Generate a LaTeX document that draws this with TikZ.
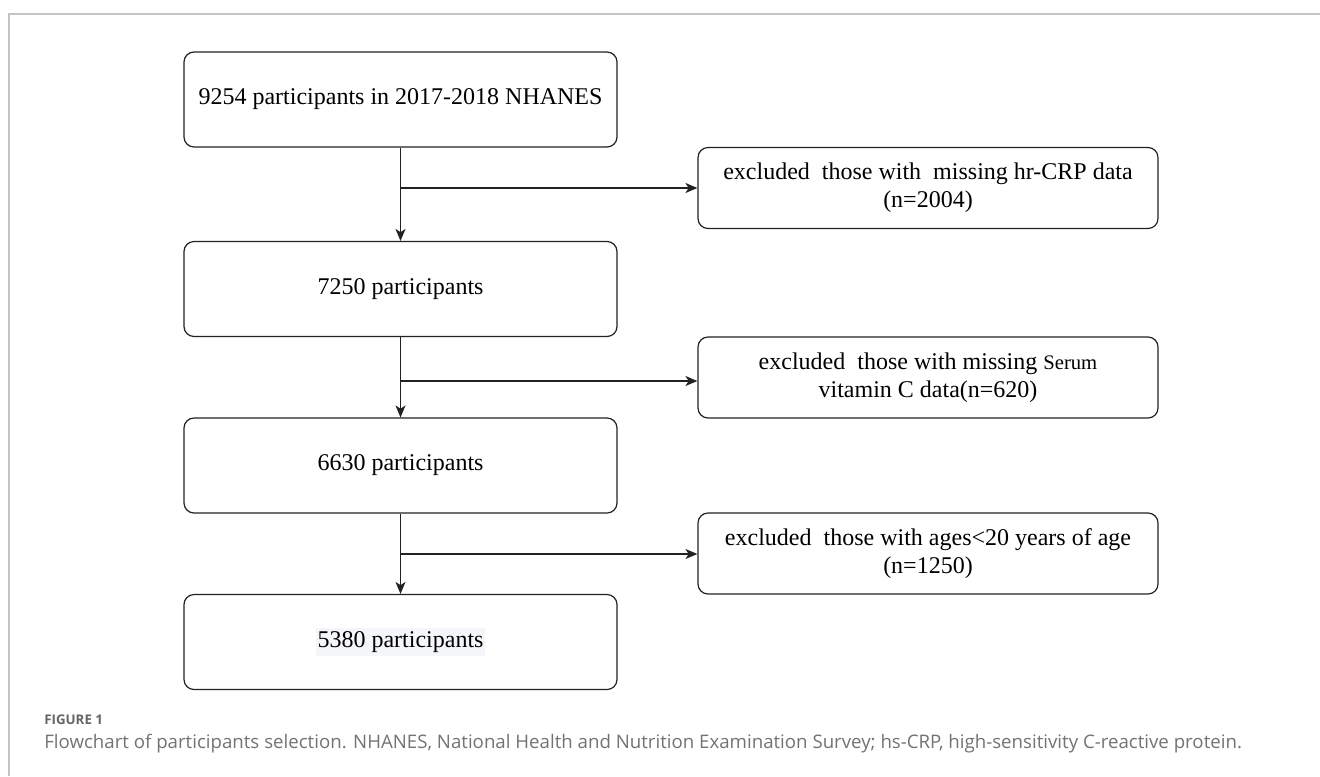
\documentclass[tikz,border=0pt]{standalone}
\usepackage{fontspec}
\setmainfont{Liberation Serif}
\newfontfamily\capfont{Open Sans}
\usetikzlibrary{arrows.meta}
\definecolor{frameline}{HTML}{C4C4C4}
\definecolor{boxline}{HTML}{222222}
\definecolor{captxt}{HTML}{737373}
\definecolor{capbold}{HTML}{666666}
\definecolor{hl}{HTML}{F4F6F9}
\begin{document}
\begin{tikzpicture}[x=0.75pt,y=-0.75pt,
  stagebox/.style={draw=boxline, line width=0.9pt, rounded corners=7.5pt,
    minimum width=324.75pt, minimum height=71.25pt, inner sep=0pt,
    align=center, font=\fontsize{18}{21}\selectfont},
  exclbox/.style={stagebox, minimum width=345pt, minimum height=60.75pt},
  flow/.style={draw=boxline, line width=0.9pt,
    -{Stealth[length=9pt,width=7.5pt,inset=2.5pt]}},
  captag/.style={anchor=base west, inner sep=0pt, text=capbold,
    font=\capfont\bfseries\fontsize{10}{12}\selectfont},
  captext/.style={anchor=base west, inner sep=0pt, text=captxt,
    font=\capfont\fontsize{14}{16}\selectfont},
]
\useasboundingbox (0,0) rectangle (1320,776);
\fill[white] (0,0) rectangle (1320,776);
\draw[frameline, line width=1.1pt] (1320,14) -- (9,14) -- (9,776);

% main stages
\node[stagebox] (b1) at (400.5,99.5) {9254 participants in 2017-2018 NHANES};
\node[stagebox] (b2) at (400.5,289) {7250 participants};
\node[stagebox] (b3) at (400.5,465.5) {6630 participants};
\node[stagebox] (b4) at (400.5,642) {{\setlength\fboxsep{1pt}\colorbox{hl}{\rule[-5.5pt]{0pt}{19.5pt}5380 participants}}};

% exclusions
\node[exclbox] (eA) at (928,188) {excluded\ \ those with\ \ missing hr-CRP data\\(n=2004)};
\node[exclbox] (eB) at (928,377.5) {excluded\ \ those with missing {\fontsize{15.5}{21}\selectfont Serum}\\vitamin C data(n=620)};
\node[exclbox] (eC) at (928,553.5) {excluded\ \ those with ages<20 years of age\\(n=1250)};

% junctions
\coordinate (j1) at (400.5,188);
\coordinate (j2) at (400.5,381);
\coordinate (j3) at (400.5,554);

% connectors
\draw[flow] (b1) -- (b2);
\draw[flow] (b2) -- (b3);
\draw[flow] (b3) -- (b4);
\draw[flow] (j1) -- (j1 -| eA.west);
\draw[flow] (j2) -- (j2 -| eB.west);
\draw[flow] (j3) -- (j3 -| eC.west);

% caption
\node[captag] (figlab) at (44,724) {FIGURE 1};
\node[captext] (figcap) at (44,748) {Flowchart of participants selection. NHANES, National Health and Nutrition Examination Survey; hs-CRP, high-sensitivity C-reactive protein.};
\end{tikzpicture}
\end{document}
